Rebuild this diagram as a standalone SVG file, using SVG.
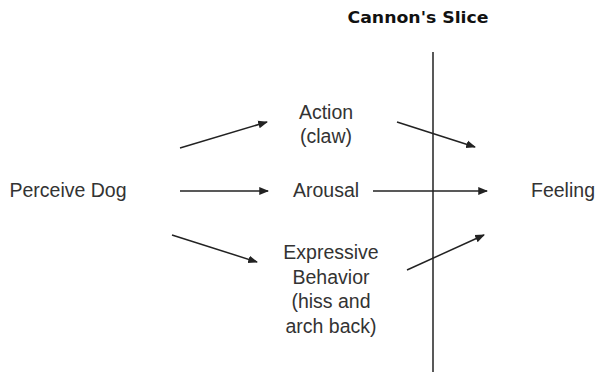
<svg xmlns="http://www.w3.org/2000/svg" width="597" height="375" viewBox="0 0 597 375">
  <style>
    .lbl { font-family: "Liberation Sans", Arial, sans-serif; font-size: 19.5px; fill: #333; text-anchor: middle; }
    .title { font-family: "DejaVu Sans", Verdana, sans-serif; font-weight: bold; font-size: 16.5px; fill: #111; text-anchor: middle; }
    .edge { stroke: #222; stroke-width: 1.5; fill: none; marker-end: url(#arrow); }
  </style>
  <defs>
    <marker id="arrow" viewBox="0 0 10 10" refX="9" refY="5" markerWidth="6.5" markerHeight="6.5" markerUnits="strokeWidth" orient="auto">
      <path d="M0,1 L10,5 L0,9 z" fill="#222"/>
    </marker>
  </defs>
  <rect width="597" height="375" fill="#fff"/>

  <g id="slice">
    <text class="title" x="418" y="23" textLength="141" lengthAdjust="spacingAndGlyphs">Cannon's Slice</text>
    <line x1="433" y1="52" x2="433" y2="372" stroke="#222" stroke-width="1.5"/>
  </g>

  <g id="perceive-dog"><text class="lbl" x="68" y="197">Perceive Dog</text></g>
  <g id="action">
    <text class="lbl" x="326" y="119">Action</text>
    <text class="lbl" x="326" y="143">(claw)</text>
  </g>
  <g id="arousal"><text class="lbl" x="326" y="197">Arousal</text></g>
  <g id="expressive-behavior">
    <text class="lbl" x="331" y="259">Expressive</text>
    <text class="lbl" x="331" y="284">Behavior</text>
    <text class="lbl" x="331" y="308">(hiss and</text>
    <text class="lbl" x="331" y="333">arch back)</text>
  </g>
  <g id="feeling"><text class="lbl" x="563" y="197">Feeling</text></g>

  <g id="connectors">
    <line class="edge" x1="180" y1="148" x2="267" y2="122"/>
    <line class="edge" x1="180" y1="191" x2="268" y2="191"/>
    <line class="edge" x1="172" y1="235" x2="257" y2="262"/>
    <line class="edge" x1="397" y1="122" x2="475" y2="147"/>
    <line class="edge" x1="373" y1="191" x2="487" y2="191"/>
    <line class="edge" x1="407" y1="270" x2="484" y2="235"/>
  </g>
</svg>
